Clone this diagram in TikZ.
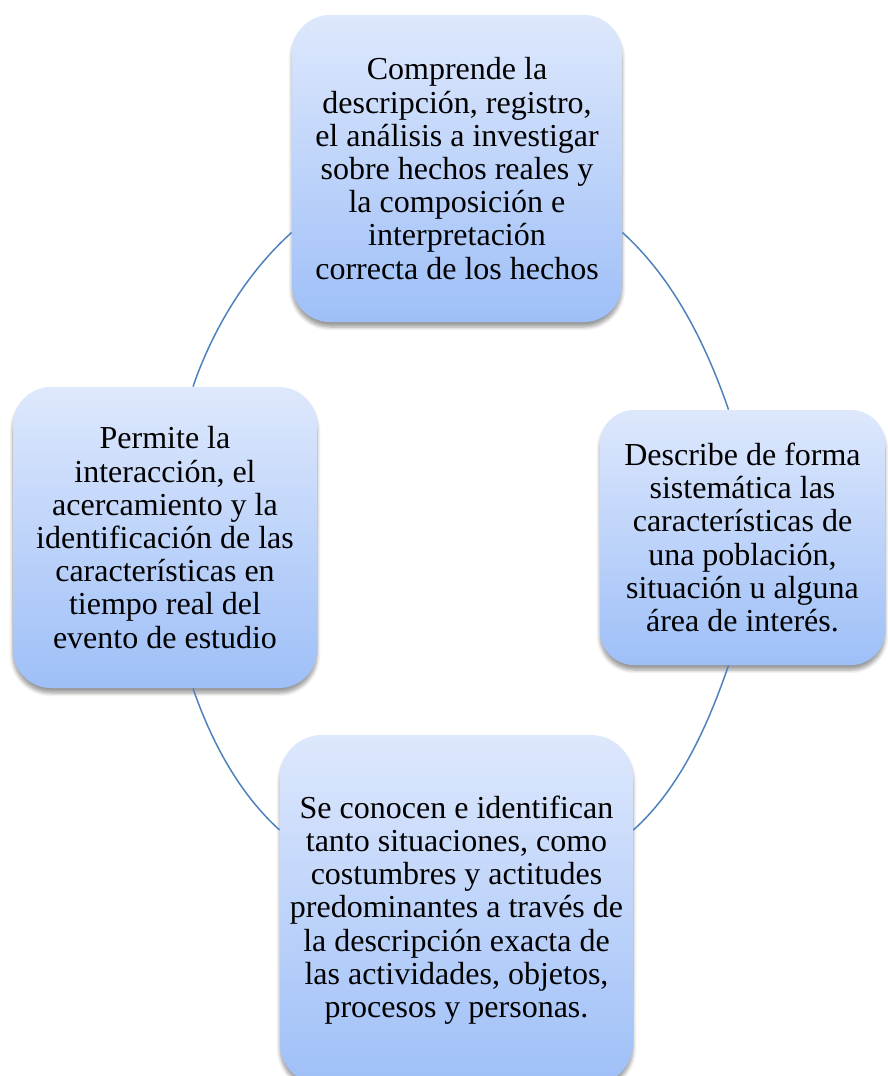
\documentclass[tikz,border=0pt]{standalone}
\usepackage{fontspec}
\setmainfont{Liberation Serif}
\usetikzlibrary{positioning,shadows,shadows.blur}
\definecolor{colortop}{rgb}{0.87, 0.91, 0.99}
\definecolor{colorbottom}{rgb}{0.62, 0.75, 0.97}
\definecolor{colorline}{rgb}{0.31, 0.51, 0.74}
\tikzstyle{stage}=[rectangle, shading=axis, top color=colortop, bottom color=colorbottom, align=center, inner sep=2pt, font=\fontsize{16pt}{16.6pt}\selectfont, blur shadow={shadow xshift=0pt, shadow yshift=-2.5pt, shadow blur steps=6, shadow opacity=40}]
\tikzstyle{link}=[draw=colorline, line width=0.75pt, looseness=0.85]

\begin{document}
\begin{tikzpicture}[x=0.5pt, y=-0.5pt]
	\useasboundingbox (0, 0) rectangle (888, 1076);
	
	\node[stage, minimum width=165pt, minimum height=153.5pt, rounded corners=19pt] at (457, 168.5) (s0) {Comprende la\\descripción, registro,\\el análisis a investigar\\sobre hechos reales y\\la composición e\\interpretación\\correcta de los hechos};
	
	\node[stage, minimum width=142.5pt, minimum height=127.5pt, rounded corners=17pt] at (742.5, 537.5) (s1) {Describe de forma\\sistemática las\\características de\\una población,\\situación u alguna\\área de interés.};
	
	\node[stage, minimum width=176.5pt, minimum height=175pt, rounded corners=21pt] at (456.5, 910) (s2) {Se conocen e identifican\\tanto situaciones, como\\costumbres y actitudes\\predominantes a través de\\la descripción exacta de\\las actividades, objetos,\\procesos y personas.};
	
	\node[stage, minimum width=152pt, minimum height=150.5pt, rounded corners=19pt] at (165, 537.5) (s3) {Permite la\\interacción, el\\acercamiento y la\\identificación de las\\características en\\tiempo real del\\evento de estudio};
	
	\draw[link] ([yshift=-32pt]s0.east) to[out=-42, in=109] ([xshift=-7pt]s1.north);
	\draw[link] ([xshift=-7pt]s1.south) to[out=-109, in=42] ([yshift=40pt]s2.east);
	\draw[link] ([xshift=14pt]s3.south) to[out=-71, in=138] ([yshift=40pt]s2.west);
	\draw[link] ([yshift=-32pt]s0.west) to[out=222, in=71] ([xshift=14pt]s3.north);
	
\end{tikzpicture}
\end{document}
